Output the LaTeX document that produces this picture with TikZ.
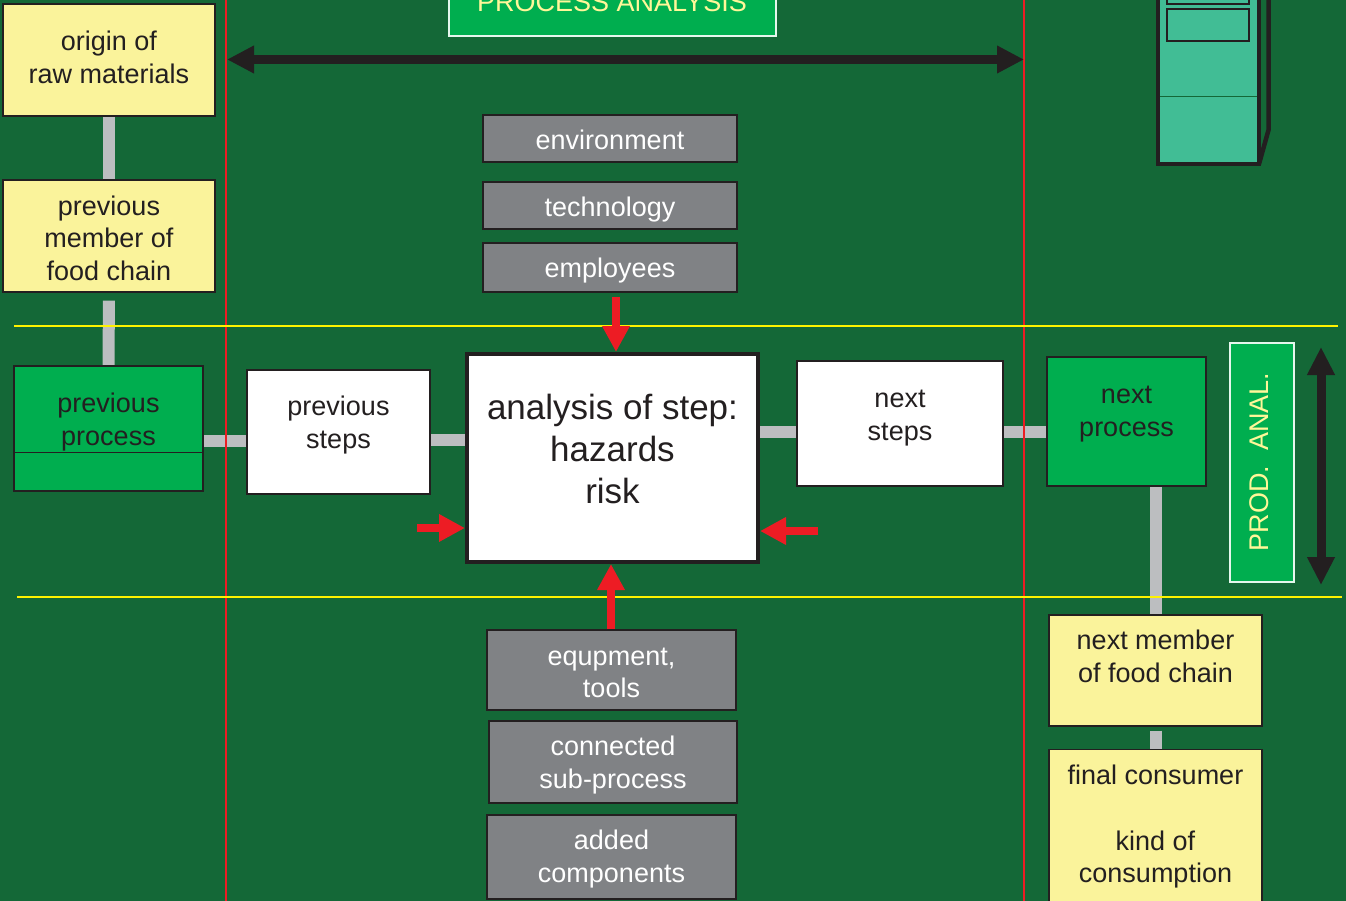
\documentclass[tikz,border=0pt]{standalone}
\usepackage{fontspec}
\setmainfont{Liberation Sans}
\usetikzlibrary{arrows.meta}
\definecolor{bgg}{RGB}{20,104,55}
\definecolor{gbox}{RGB}{0,174,79}
\definecolor{ybox}{RGB}{250,243,155}
\definecolor{grbox}{RGB}{128,130,133}
\definecolor{connc}{RGB}{188,190,192}
\definecolor{ink}{RGB}{35,31,32}
\definecolor{paley}{RGB}{255,247,153}
\definecolor{redc}{RGB}{237,28,36}
\definecolor{yell}{RGB}{255,242,0}
\definecolor{teal}{RGB}{65,189,149}
\pgfdeclarelayer{bgl}
\pgfdeclarelayer{back}
\pgfsetlayers{bgl,back,main}
\begin{document}
\begin{tikzpicture}[x=1pt,y=-1pt,
  boxb/.style={draw=ink,line width=1.2pt,inner sep=0pt},
  yb/.style={boxb,fill=ybox},
  gb/.style={boxb,fill=gbox},
  wb/.style={boxb,fill=white},
  grb/.style={boxb,fill=grbox},
  dtxt/.style={align=center,text=ink,inner sep=0pt,font=\fontsize{27}{32.4}\selectfont},
  wtxt/.style={align=center,text=white,inner sep=0pt,font=\fontsize{27}{32.4}\selectfont},
  ytxt/.style={align=center,text=paley,inner sep=0pt,font=\fontsize{27}{32.4}\selectfont},
  conn/.style={draw=connc,line width=12pt},
  redarr/.style={draw=redc,line width=8.7pt,-{Triangle[length=26pt,width=26pt]},redc},
  blkarr/.style={draw=ink,line width=9pt,{Triangle[length=27pt,width=26pt]}-{Triangle[length=27pt,width=26pt]},ink},
  redline/.style={draw=redc,line width=1.5pt},
  yline/.style={draw=yell,line width=2pt}
]
\useasboundingbox (0,0) rectangle (1346,901);
\clip (0,0) rectangle (1346,901);
\begin{pgfonlayer}{bgl}
\fill[bgg] (0,0) rectangle (1346,901);
\end{pgfonlayer}

% ---- left column
\node[yb,minimum width=212pt,minimum height=112pt] (orig) at (109,60) {};
\node[dtxt] (origT) at (109,57.5) {origin of\\raw materials};
\node[yb,minimum width=212pt,minimum height=112pt] (prevmem) at (109,236) {};
\node[dtxt] (prevmemT) at (109,238) {previous\\member of\\food chain};
\node[gb,minimum width=189pt,minimum height=125pt] (prevproc) at (108.5,428.5) {};
\draw[draw=ink,line width=1pt] (prevproc.west |- 0,452) -- (prevproc.east |- 0,452);
\node[dtxt] (prevprocT) at (108.5,422) {previous\\process};

% ---- middle row
\node[wb,minimum width=183pt,minimum height=124pt] (prevsteps) at (338.5,432) {};
\node[dtxt] (prevstepsT) at (338.5,425) {previous\\steps};
\node[boxb,fill=white,line width=4pt,minimum width=291pt,minimum height=208pt] (ana) at (612.5,458) {};
\node[dtxt,font=\fontsize{35}{42}\selectfont] (anaT) at (612.5,449) {analysis of step:\\hazards\\risk};
\node[wb,minimum width=206pt,minimum height=125pt] (nextsteps) at (900,423.5) {};
\node[dtxt] (nextstepsT) at (900,418) {next\\steps};
\node[gb,minimum width=159pt,minimum height=129pt] (nextproc) at (1126.5,421.5) {};
\node[dtxt] (nextprocT) at (1126.5,414) {next\\process};

% ---- right column
\node[yb,minimum width=213pt,minimum height=111pt] (nextmem) at (1155.5,670.5) {};
\node[dtxt] (nextmemT) at (1155.5,656.5) {next member\\of food chain};
\node[yb,minimum width=213pt,minimum height=160pt] (final) at (1155.5,829.5) {};
\node[dtxt] (finalT) at (1155.5,826.5) {final consumer\\[33.6pt]kind of\\consumption};

% ---- PROD. ANAL.
\node[draw=white!90!gbox,line width=1.2pt,fill=gbox,minimum width=64pt,minimum height=239pt,inner sep=0pt] (prod) at (1262,462.5) {};
\node[ytxt,rotate=90] (prodT) at (1259,462) {PROD.\ \ ANAL.};

% ---- top influences
\node[grb,minimum width=254pt,minimum height=47pt] (env) at (610,138.5) {};
\node[wtxt] (envT) at (610,140) {environment};
\node[grb,minimum width=254pt,minimum height=47pt] (tech) at (610,205.5) {};
\node[wtxt] (techT) at (610,210) {technology};
\node[grb,minimum width=254pt,minimum height=49pt] (empl) at (610,267.5) {};
\node[wtxt] (emplT) at (610,271) {employees};

% ---- bottom influences
\node[grb,minimum width=249pt,minimum height=80pt] (equip) at (611.5,670) {};
\node[wtxt] (equipT) at (611.5,673) {equpment,\\tools};
\node[grb,minimum width=248pt,minimum height=82pt] (sub) at (613,762) {};
\node[wtxt] (subT) at (613,765) {connected\\sub-process};
\node[grb,minimum width=249pt,minimum height=84pt] (added) at (611.5,857) {};
\node[wtxt] (addedT) at (611.5,859) {added\\components};

% ---- PROCESS ANALYSIS header
\node[draw=white!90!gbox,line width=1.2pt,fill=gbox,minimum width=327pt,minimum height=56pt,inner sep=0pt] (pa) at (612.5,8) {};
\node[ytxt,anchor=base] (paT) at (612,12) {PROCESS ANALYSIS};

% ---- device (top right)
\fill[teal] (1158,-10) rectangle (1259,164);
\draw[draw=bgg,line width=1pt] (1160,97) -- (1272,97);
\draw[draw=ink,line width=1.5pt] (1167,-10) rectangle (1249,4);
\draw[draw=ink,line width=1.5pt] (1167,9) rectangle (1249,41);
\draw[draw=ink,line width=4pt,line join=miter] (1158,-10) -- (1158,164) -- (1259,164) -- (1259,-10);
\draw[draw=ink,line width=4.5pt,line join=miter] (1268.5,-10) -- (1268.5,130) -- (1259,164);

% ---- connectors, guide lines
\coordinate (rl1t) at (226,0); \coordinate (rl1b) at (226,901);
\coordinate (rl2t) at (1024,0); \coordinate (rl2b) at (1024,901);
\coordinate (yl1a) at (14,326); \coordinate (yl1b) at (1338,326);
\coordinate (yl2a) at (17,597); \coordinate (yl2b) at (1342,597);
\begin{pgfonlayer}{back}
\draw[conn] (orig.south) -- (prevmem.north);
\draw[conn,shorten <=8pt] (prevmem.south) -- (prevproc.north);
\draw[conn] (prevproc.east |- 0,441) -- (prevsteps.west |- 0,441);
\draw[conn] (prevsteps.east |- 0,439.5) -- (ana.west |- 0,439.5);
\draw[conn] (ana.east |- 0,431.5) -- (nextsteps.west |- 0,431.5);
\draw[conn] (nextsteps.east |- 0,431.5) -- (nextproc.west |- 0,431.5);
\draw[conn] (nextproc.south -| 1156,0) -- (nextmem.north -| 1156,0);
\draw[conn,shorten <=4pt] (nextmem.south -| 1156,0) -- (final.north -| 1156,0);
\draw[redline] (rl1t) -- (rl1b);
\draw[redline] (rl2t) -- (rl2b);
\draw[yline] (yl1a) -- (yl1b);
\draw[yline] (yl2a) -- (yl2b);
\end{pgfonlayer}

% ---- red arrows
\draw[redarr,shorten <=4pt] (empl.south -| 616,0) -- (ana.north -| 616,0);
\draw[redarr] (equip.north -| 611,0) -- (ana.south -| 611,0);
\coordinate (la) at (417,528);
\draw[redarr] (la) -- (ana.west |- la);
\coordinate (ra) at (818,531);
\draw[redarr] (ra) -- (ana.east |- ra);

% ---- black double arrows
\coordinate (ha1) at (227,59.5); \coordinate (ha2) at (1024,59.5);
\draw[blkarr] (ha1) -- (ha2);
\coordinate (va1) at (1321,347); \coordinate (va2) at (1321,585);
\draw[blkarr,{Triangle[length=28pt,width=26pt]}-{Triangle[length=28pt,width=26pt]}] (va1) -- (va2);
\end{tikzpicture}
\end{document}
